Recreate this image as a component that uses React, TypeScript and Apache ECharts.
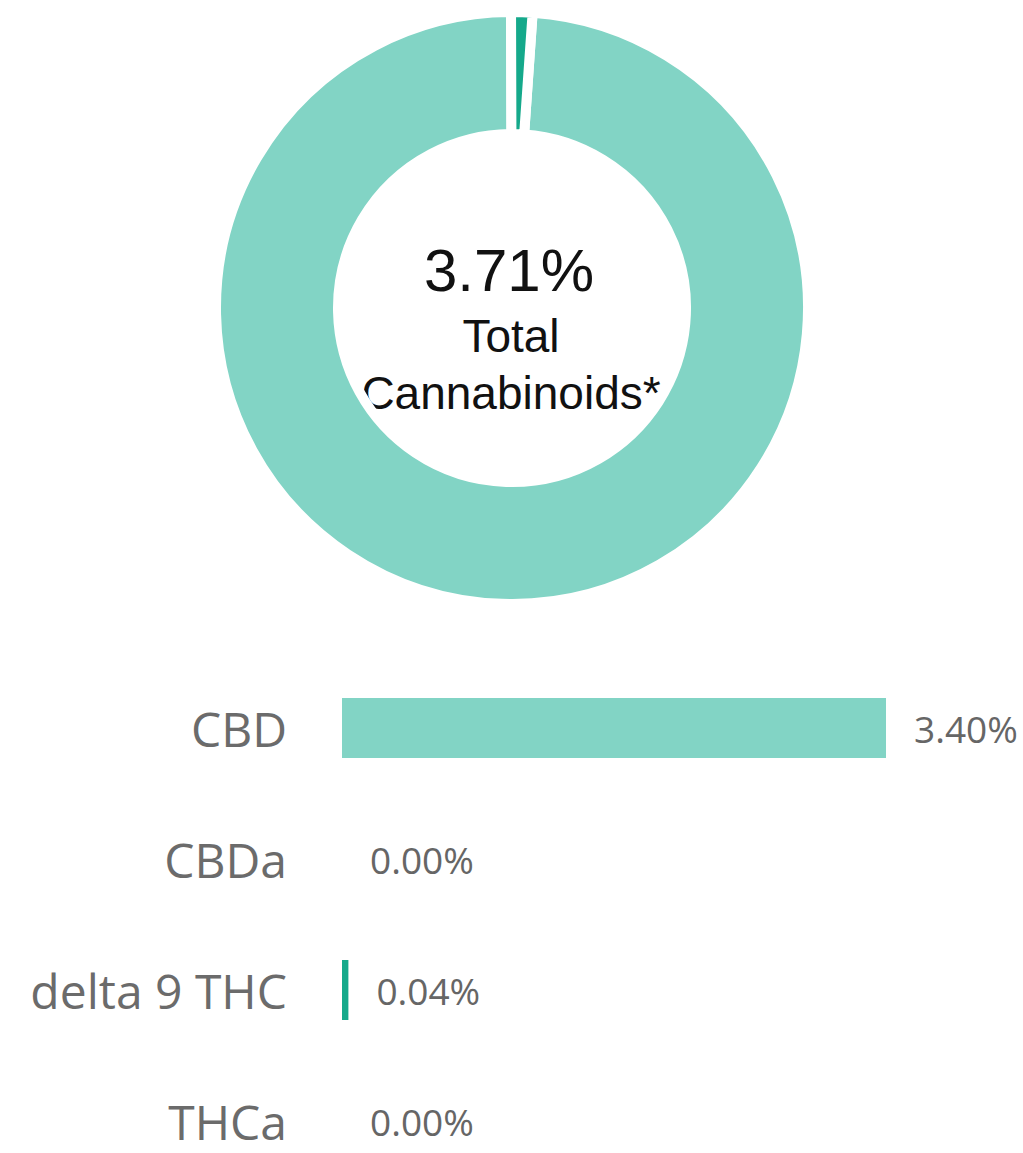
import React, { useEffect, useRef } from "react";
import * as echarts from "echarts";

const categories = ["CBD", "CBDa", "delta 9 THC", "THCa"];
const values = [3.4, 0.0, 0.04, 0.0];
const colors = ["#82D4C5", "#82D4C5", "#15A98B", "#15A98B"];
const totalValue = 3.71;
const centerTitle = "Total";
const centerSubtitle = "Cannabinoids*";

export default function App() {
  const ref = useRef<HTMLDivElement>(null);

  useEffect(() => {
    if (!ref.current) return;
    const chart = echarts.init(ref.current, undefined, { renderer: "svg" });

    const pieData = categories
      .map((name, i) => ({ name, value: values[i], itemStyle: { color: colors[i] } }))
      .filter((d) => d.value > 0);

    const option: any = {
      animation: false,
      backgroundColor: "#ffffff",
      grid: {
        left: 342,
        top: 662.5,
        width: 640,
        height: 524,
        containLabel: false,
        outerBoundsMode: "none",
      },
      xAxis: {
        type: "value",
        min: 0,
        max: 4,
        show: false,
      },
      yAxis: {
        type: "category",
        data: categories,
        inverse: true,
        axisLine: { show: false },
        axisTick: { show: false },
        splitLine: { show: false },
        axisLabel: {
          margin: 55,
          fontSize: 48,
          lineHeight: 40,
          color: "#6b6b6b",
          fontFamily: "Open Sans",
        },
      },
      series: [
        {
          type: "bar",
          barWidth: 60,
          data: values.map((v, i) => ({ value: v, itemStyle: { color: colors[i] } })),
          label: {
            show: true,
            position: "right",
            distance: 28,
            fontSize: 37,
            lineHeight: 36,
            color: "#666666",
            fontFamily: "Open Sans",
            formatter: (p: any) => Number(p.value).toFixed(2) + "%",
          },
        },
        {
          type: "pie",
          center: [512, 308],
          radius: [174, 296],
          startAngle: 86,
          clockwise: true,
          label: { show: false },
          labelLine: { show: false },
          emphasis: { disabled: true },
          itemStyle: { borderColor: "#ffffff", borderWidth: 10 },
          data: pieData,
        },
      ],
      graphic: [
        {
          type: "text",
          x: 509,
          y: 270,
          style: {
            text: totalValue.toFixed(2) + "%",
            textAlign: "center",
            textVerticalAlign: "middle",
            fontSize: 60,
            fontFamily: "Liberation Sans",
            fill: "#111111",
          },
        },
        {
          type: "text",
          x: 511,
          y: 336,
          style: {
            text: centerTitle,
            textAlign: "center",
            textVerticalAlign: "middle",
            fontSize: 46,
            fontFamily: "Liberation Sans",
            fill: "#111111",
          },
        },
        {
          type: "text",
          x: 511,
          y: 393,
          style: {
            text: centerSubtitle,
            textAlign: "center",
            textVerticalAlign: "middle",
            fontSize: 46,
            fontFamily: "Liberation Sans",
            fill: "#111111",
          },
        },
      ],
    };

    chart.setOption(option);
    return () => chart.dispose();
  }, []);

  return (
    <div
      ref={ref}
      style={{ position: "absolute", left: 0, top: 0, width: 1023, height: 1153 }}
    />
  );
}
